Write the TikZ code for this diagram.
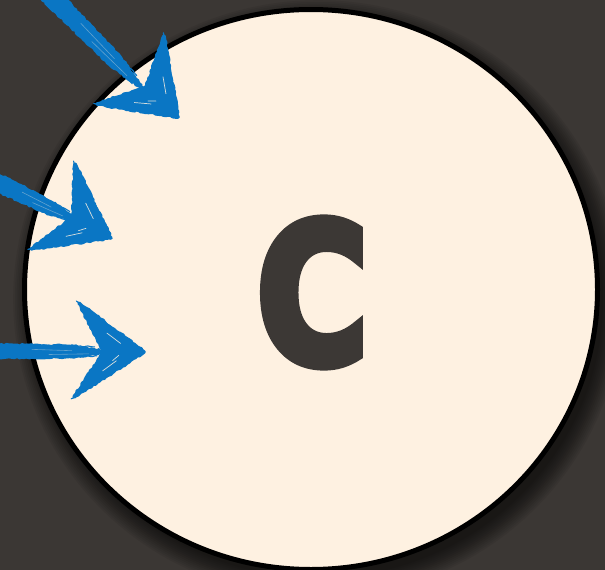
\documentclass[tikz,border=0pt]{standalone}
\usepackage{fontspec}
\usepackage{graphicx}
\usetikzlibrary{calc,decorations.pathmorphing}
\newfontfamily\cfont{DejaVu Sans Bold}[FakeBold=6]
\definecolor{bg}{RGB}{59,55,52}
\definecolor{cream}{RGB}{254,241,225}
\definecolor{ink}{RGB}{60,56,53}
\definecolor{arrowblue}{RGB}{10,118,196}
\tikzset{
  rough/.style={decorate,decoration={random steps,segment length=2.5pt,amplitude=0.8pt}},
  headfill/.style={fill=arrowblue,draw=arrowblue,line width=3.5pt,line join=round,rough},
  shaftfill/.style={fill=arrowblue,rough},
  streak/.style={draw=arrowblue,line width=1.1pt,line cap=round,rough},
  gap/.style={draw=cream,line width=0.7pt,line cap=round,opacity=0.85},
  shgap/.style={draw=arrowblue!55!cream,line width=0.6pt,line cap=round,opacity=0.8},
}
\begin{document}
\begin{tikzpicture}[x=1pt,y=-1pt]
\pgfmathsetseed{11}
\useasboundingbox (0,0) rectangle (605,570);
\fill[bg] (0,0) rectangle (605,570);
% shadow
\foreach \i in {0,...,11}{
  \fill[black,opacity=0.06] (318,299) ellipse [x radius={285pt+\i*1.8pt}, y radius={279pt+\i*1.8pt}];
}
% disc
\draw[line width=5pt,fill=cream] (311,289.5) ellipse [x radius=286.5pt, y radius=280pt];
% letter
\node[text=ink,inner sep=0pt] (letterC) at (312.5,292.5) {\resizebox{111pt}{142pt}{\cfont C}};
% arrow coordinates
\coordinate (s1) at (45,-10);  \coordinate (e1) at (143,89);
\coordinate (t1) at (178,117); \coordinate (u1) at (164,36); \coordinate (l1) at (97,104); \coordinate (n1) at (146,87);
\coordinate (s2) at (-8,180);  \coordinate (e2) at (76,220);
\coordinate (t2) at (111,238); \coordinate (u2) at (75,164); \coordinate (l2) at (31,249); \coordinate (n2) at (73,217);
\coordinate (s3) at (-8,351);  \coordinate (e3) at (106,352);
\coordinate (t3) at (144,352); \coordinate (u3) at (79,303); \coordinate (l3) at (74,397); \coordinate (n3) at (104,352);
% shafts
\foreach \s/\e/\w/\m in {s1/e1/10/8, s2/e2/9.5/7.5, s3/e3/8/7}{
  \fill[shaftfill] ($(\s)!\w pt!90:(\e)$) -- ($(\s)!0.72!(\e)!\m pt!90:(\e)$) -- ($(\e)!2pt!-90:(\s)$) -- ($(\e)!2pt!90:(\s)$) -- ($(\s)!0.72!(\e)!\m pt!-90:(\e)$) -- ($(\s)!\w pt!-90:(\e)$) -- cycle;
  \draw[streak] ($(\s)!0.3!(\e)!7pt!90:(\e)$) -- ($(\s)!0.9!(\e)!5pt!90:(\e)$);
  \draw[streak] ($(\s)!0.4!(\e)!6pt!-90:(\e)$) -- ($(\s)!0.92!(\e)!4pt!-90:(\e)$);
  \draw[streak] ($(\s)!0.7!(\e)!2pt!90:(\e)$) -- ($(\e)!1.02!(\s)$);
  \draw[shgap] ($(\s)!0.35!(\e)!2pt!90:(\e)$) -- ($(\s)!0.7!(\e)!1pt!90:(\e)$);
  \draw[shgap] ($(\s)!0.5!(\e)!-3pt!90:(\e)$) -- ($(\s)!0.85!(\e)!-2pt!90:(\e)$);
}
% heads
\foreach \t/\u/\l/\n in {t1/u1/l1/n1, t2/u2/l2/n2, t3/u3/l3/n3}{
  \filldraw[headfill] (\t) -- (\u) -- (\n) -- (\l) -- cycle;
  \draw[streak] ($(\u)!-0.04!(\t)$) -- (\t);
  \draw[streak] ($(\l)!-0.04!(\t)$) -- (\t);
  \draw[gap] ($(\t)!0.25!(\u)!0.3!(\n)$) -- ($(\t)!0.55!(\u)!0.3!(\n)$);
  \draw[gap] ($(\t)!0.3!(\l)!0.35!(\n)$) -- ($(\t)!0.6!(\l)!0.3!(\n)$);
  \draw[gap] ($(\t)!0.15!(\l)!0.5!(\n)$) -- ($(\t)!0.35!(\l)!0.45!(\n)$);
}
\end{tikzpicture}
\end{document}
